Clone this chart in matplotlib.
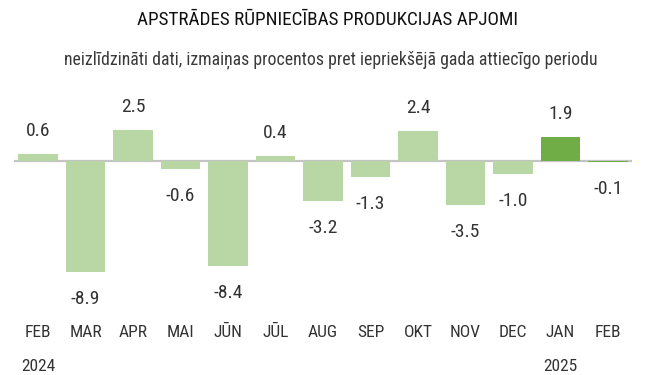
import matplotlib
matplotlib.use("Agg")
import matplotlib.pyplot as plt
from matplotlib import font_manager

months = ["FEB", "MAR", "APR", "MAI", "JŪN", "JŪL", "AUG", "SEP", "OKT", "NOV", "DEC", "JAN", "FEB"]
years = {0: "2024", 11: "2025"}
values = [0.6, -8.9, 2.5, -0.6, -8.4, 0.4, -3.2, -1.3, 2.4, -3.5, -1.0, 1.9, -0.1]
highlight = [False] * 11 + [True, True]

# pick a narrow face if one is around, otherwise condensed DejaVu
names = {f.name for f in font_manager.fontManager.ttflist}
fam = "DejaVu Sans"
for cand in ["Roboto Condensed", "Liberation Sans Narrow", "Open Sans Condensed", "Noto Sans Condensed"]:
    if cand in names:
        fam = cand
        break
plt.rcParams["font.family"] = fam
plt.rcParams["font.stretch"] = "condensed"
txt = "#333333"

W, H = 665, 375
fig = plt.figure(figsize=(W / 100, H / 100), dpi=100)
# axes placed in pixel units: zero line at y=161, 12.5 px per unit
x0, x1 = 14, 632
yt, yb = 80, 315
ax = fig.add_axes([x0 / W, 1 - yb / H, (x1 - x0) / W, (yb - yt) / H])
ax.set_xlim((x0 - 38) / 47.5, (x1 - 38) / 47.5)
ax.set_ylim(-(yb - 161) / 12.5, (161 - yt) / 12.5)

colors = ["#70ad47" if h else "#b9d7a5" for h in highlight]
ax.bar(range(len(values)), values, width=0.84, color=colors, zorder=2)
ax.axhline(0, color="#c4c4c4", lw=1.6, zorder=1)

for i, v in enumerate(values):
    if v >= 0:
        ax.annotate(f"{v:.1f}", (i, v), xytext=(0, 10), textcoords="offset points",
                    ha="center", va="bottom", fontsize=14, color=txt)
    else:
        ax.annotate(f"{v:.1f}", (i, v), xytext=(0, -13), textcoords="offset points",
                    ha="center", va="top", fontsize=14, color=txt)

ax.set_xticks(range(len(months)), months)
ax.tick_params(axis="x", length=0, pad=7, labelsize=12.5, labelcolor=txt)
ax.set_yticks([])
for s in ax.spines.values():
    s.set_visible(False)

for i, y in years.items():
    ax.annotate(y, (i, 0), xycoords=("data", "axes fraction"), xytext=(0, -32),
                textcoords="offset points", ha="center", va="top", fontsize=12.5, color=txt)

fig.text(0.492, 1 - 20 / H, "APSTRĀDES RŪPNIECĪBAS PRODUKCIJAS APJOMI", ha="center",
         va="center", fontsize=13.8, color="#111111")
fig.text(0.497, 1 - 60 / H,
         "neizlīdzināti dati, izmaiņas procentos pret iepriekšējā gada attiecīgo periodu",
         ha="center", va="center", fontsize=12.8, color="#3a3a3a")

fig.savefig("out.png", dpi=100)
